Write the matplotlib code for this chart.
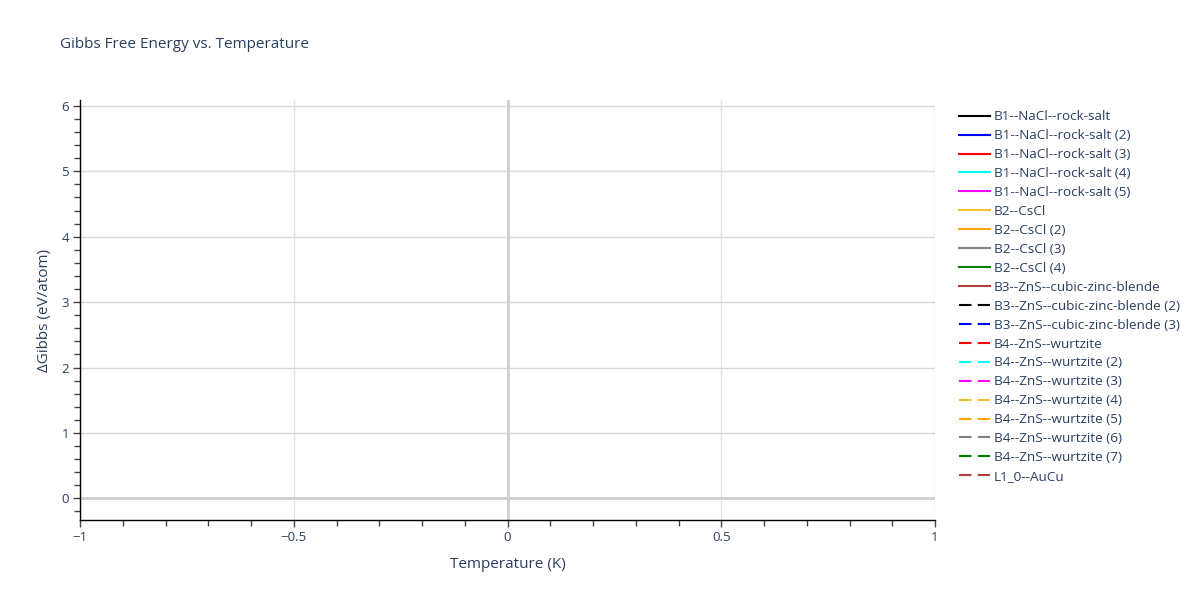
import matplotlib
matplotlib.use("Agg")
import matplotlib.pyplot as plt

# structures (traces carry no points, only legend entries)
names = [
    "B1--NaCl--rock-salt", "B1--NaCl--rock-salt (2)", "B1--NaCl--rock-salt (3)",
    "B1--NaCl--rock-salt (4)", "B1--NaCl--rock-salt (5)",
    "B2--CsCl", "B2--CsCl (2)", "B2--CsCl (3)", "B2--CsCl (4)",
    "B3--ZnS--cubic-zinc-blende", "B3--ZnS--cubic-zinc-blende (2)",
    "B3--ZnS--cubic-zinc-blende (3)",
    "B4--ZnS--wurtzite", "B4--ZnS--wurtzite (2)", "B4--ZnS--wurtzite (3)",
    "B4--ZnS--wurtzite (4)", "B4--ZnS--wurtzite (5)", "B4--ZnS--wurtzite (6)",
    "B4--ZnS--wurtzite (7)", "L1_0--AuCu",
]
colors = ["black", "blue", "red", "cyan", "magenta", "#f0c030", "orange", "gray",
          "green", "#b04040", "black", "blue", "red", "cyan", "magenta",
          "#f0c030", "orange", "gray", "green", "#b04040"]
dashed = [False] * 10 + [True] * 10
temperature = []
gibbs = []

plt.rcParams['font.family'] = ['Open Sans', 'DejaVu Sans']
txt = '#2a3f5f'

fig = plt.figure(figsize=(12, 6), dpi=100)
ax = fig.add_axes([80 / 1200, 80 / 600, 855 / 1200, 420 / 600])

handles = []
for name, c, d in zip(names, colors, dashed):
    ls = (0, (6, 3)) if d else '-'
    h, = ax.plot(temperature, gibbs, color=c, lw=1.5, ls=ls, label=name)
    handles.append(h)

ax.set_xlim(-1, 1)
ax.set_ylim(-0.33, 6.09)
ax.set_xticks([-1, -0.5, 0, 0.5, 1])
ax.set_xticklabels(['\u22121', '\u22120.5', '0', '0.5', '1'])
ax.set_xticks([i / 10 for i in range(-10, 11)], minor=True)
ax.set_yticks(range(0, 7))
ax.set_yticks([i / 5 for i in range(-1, 31)], minor=True)

ax.grid(True, which='major', axis='y', color='#d9d9d9', lw=1)
ax.grid(True, which='major', axis='x', color='#e4e4e4', lw=1)
ax.axhline(0, color='#cfcfcf', lw=2, zorder=1)
ax.axvline(0, color='#cfcfcf', lw=2, zorder=1)
ax.set_axisbelow(True)

for s in ['top', 'right']:
    ax.spines[s].set_visible(False)
for s in ['left', 'bottom']:
    ax.spines[s].set_color('black')
    ax.spines[s].set_linewidth(1)
ax.tick_params(which='major', length=5, width=1, color='#444444', labelcolor=txt,
               labelsize=9.5, pad=3)
ax.tick_params(which='minor', length=4, width=1, color='#444444')

ax.set_xlabel("Temperature (K)", fontsize=11, color=txt, labelpad=9)
ax.set_ylabel("\u0394Gibbs (eV/atom)", fontsize=11, color=txt, labelpad=7)
fig.text(60 / 1200, 1 - 45 / 600, "Gibbs Free Energy vs. Temperature",
         fontsize=11, color=txt, va='center', ha='left')

leg = fig.legend(handles=handles, loc='upper left',
                 bbox_to_anchor=(954 / 1200, 1 - 105 / 600), frameon=False,
                 fontsize=9.7, labelspacing=0.44, handlelength=2.25,
                 handletextpad=0.3, borderaxespad=0)
for t in leg.get_texts():
    t.set_color(txt)

fig.savefig("out.png", dpi=100)
